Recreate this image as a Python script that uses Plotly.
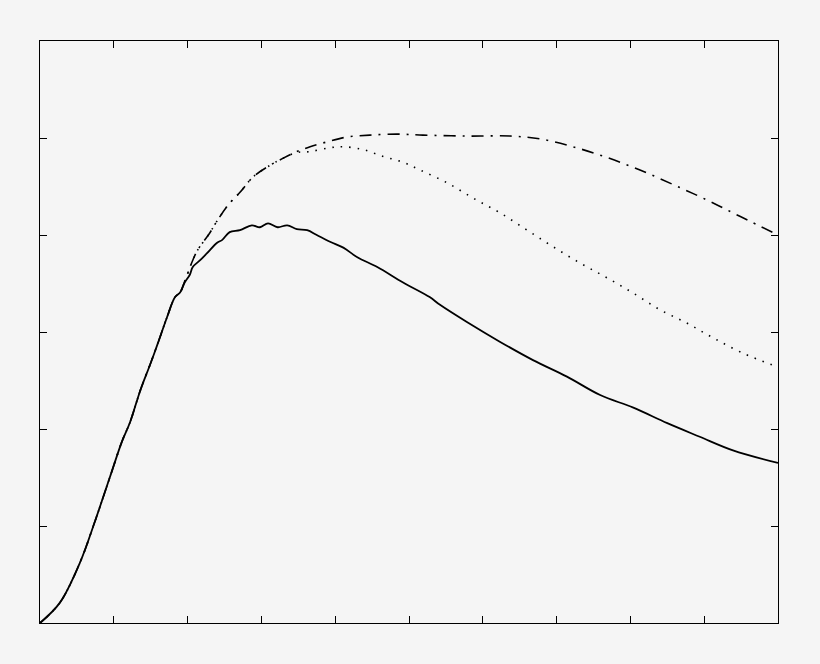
import plotly.graph_objects as go

# shared rising part of all three curves
x_rise = [0, 0.27, 0.54, 0.75, 0.95, 1.11, 1.22, 1.36, 1.49, 1.60, 1.72, 1.83, 1.90]
y_rise = [0, 0.21, 0.62, 1.06, 1.51, 1.87, 2.07, 2.40, 2.66, 2.89, 3.15, 3.36, 3.41]

# solid curve
x_solid = x_rise + [1.96, 2.03, 2.07, 2.17, 2.26, 2.40, 2.47, 2.57, 2.71, 2.87, 2.98, 3.09,
                    3.22, 3.35, 3.48, 3.62, 3.75, 3.93, 4.11, 4.30, 4.57, 4.92, 5.28, 5.42,
                    5.79, 6.23, 6.68, 7.14, 7.59, 8.04, 8.50, 8.94, 9.39, 10.0]
y_solid = y_rise + [3.51, 3.59, 3.67, 3.74, 3.81, 3.92, 3.95, 4.03, 4.05, 4.10, 4.08, 4.12,
                    4.08, 4.10, 4.06, 4.05, 4.00, 3.93, 3.87, 3.77, 3.67, 3.51, 3.36, 3.28,
                    3.10, 2.90, 2.71, 2.54, 2.35, 2.22, 2.06, 1.92, 1.78, 1.65]

# dash-dot curve
x_dashdot = x_rise + [1.96, 2.07, 2.14, 2.30, 2.37, 2.55, 2.71, 2.89, 3.12, 3.29, 3.48, 3.66,
                      3.89, 4.16, 4.47, 4.84, 5.19, 5.79, 6.37, 6.78, 7.22, 7.68, 8.13, 8.58,
                      9.04, 9.49, 10.0]
y_dashdot = y_rise + [3.52, 3.74, 3.85, 4.02, 4.11, 4.31, 4.44, 4.60, 4.72, 4.79, 4.86, 4.91,
                      4.96, 5.01, 5.03, 5.04, 5.03, 5.02, 5.02, 4.99, 4.91, 4.80, 4.67, 4.52,
                      4.36, 4.19, 4.00]

# dotted curve
x_dotted = x_rise + [1.96, 2.07, 2.14, 2.30, 2.37, 2.55, 2.71, 2.89, 3.12, 3.29, 3.48, 3.66,
                     3.93, 4.11, 4.38, 4.65, 4.92, 5.15, 5.51, 5.87, 6.23, 6.60, 6.95, 7.32,
                     7.68, 8.04, 8.40, 8.77, 9.12, 9.53, 10.0]
y_dotted = y_rise + [3.52, 3.74, 3.85, 4.02, 4.11, 4.31, 4.44, 4.60, 4.72, 4.79, 4.85, 4.86,
                     4.90, 4.91, 4.88, 4.81, 4.75, 4.67, 4.54, 4.38, 4.23, 4.05, 3.88, 3.71,
                     3.56, 3.40, 3.23, 3.09, 2.94, 2.78, 2.64]

trace_dotted = go.Scatter(x=x_dotted, y=y_dotted, mode='lines', line_shape='spline',
                          line=dict(color='black', width=1.6, dash='1.5px,7px'))
trace_dashdot = go.Scatter(x=x_dashdot, y=y_dashdot, mode='lines', line_shape='spline',
                           line=dict(color='black', width=1.6, dash='12px,7px,2px,7px'))
trace_solid = go.Scatter(x=x_solid, y=y_solid, mode='lines', line_shape='spline',
                         line=dict(color='black', width=1.8))

axis_style = dict(showline=True, linecolor='black', linewidth=1, mirror='allticks',
                  ticks='inside', ticklen=7, tickwidth=1.2, tickcolor='black',
                  showticklabels=False, showgrid=False, zeroline=False)

layout = go.Layout(
    width=820, height=664,
    margin=dict(l=40, r=42, t=41, b=41),
    paper_bgcolor='#f5f5f5', plot_bgcolor='#f5f5f5',
    showlegend=False,
    xaxis=dict(range=[0, 10], dtick=1, tick0=0, **axis_style),
    yaxis=dict(range=[0, 6], dtick=1, tick0=0, **axis_style),
)

fig = go.Figure(data=[trace_dotted, trace_dashdot, trace_solid], layout=layout)

# drop the default page margin so the chart fills the window
page_fix = "document.body.style.margin='0';document.body.style.background='#f5f5f5';"
fig.write_html('out.html', post_script=page_fix, config={'displayModeBar': False})
